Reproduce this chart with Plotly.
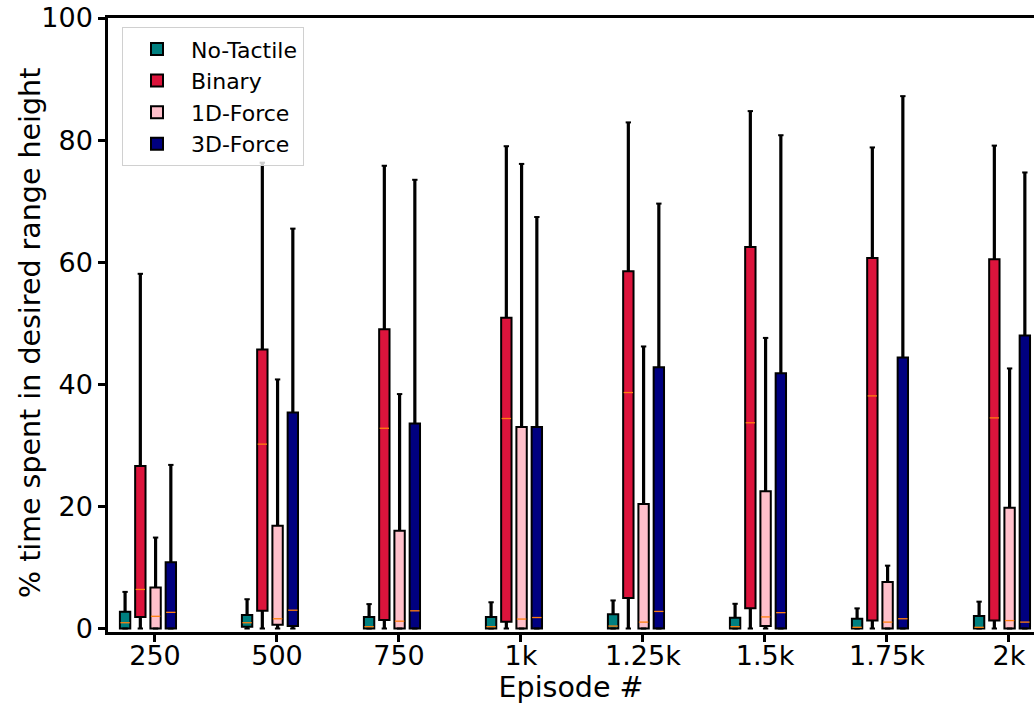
import plotly.graph_objects as go

# ---------------- data ----------------
episodes = ["250", "500", "750", "1k", "1.25k", "1.5k", "1.75k", "2k"]
series_names = ["No-Tactile", "Binary", "1D-Force", "3D-Force"]

notactile_q1 = [0, 0.3, 0, 0, 0, 0, 0, 0]
notactile_med = [0.95, 0.95, 0.3, 0.3, 0.4, 0.3, 0.2, 0.2]
notactile_q3 = [2.75, 2.2, 1.9, 1.9, 2.35, 1.75, 1.6, 2.05]
notactile_hi = [6.0, 4.8, 4.0, 4.3, 4.6, 4.05, 3.3, 4.4]
notactile_lo = [0, 0, 0, 0, 0, 0, 0, 0]

binary_q1 = [1.9, 2.9, 1.4, 1.1, 5.0, 3.3, 1.3, 1.3]
binary_med = [6.4, 30.2, 32.8, 34.4, 38.65, 33.7, 38.1, 34.5]
binary_q3 = [26.6, 45.7, 49.0, 50.9, 58.5, 62.5, 60.7, 60.5]
binary_hi = [58.1, 76.3, 75.8, 79.0, 82.9, 84.75, 78.8, 79.1]
binary_lo = [0, 0, 0, 0, 0, 0, 0, 0]

force1d_q1 = [0, 0.6, 0, 0, 0, 0.4, 0, 0]
force1d_med = [2.0, 1.6, 1.2, 1.55, 1.05, 1.9, 1.05, 1.3]
force1d_q3 = [6.7, 16.85, 16.0, 33.0, 20.4, 22.5, 7.6, 19.8]
force1d_hi = [14.9, 40.8, 38.4, 76.1, 46.2, 47.6, 10.3, 42.6]
force1d_lo = [0, 0, 0, 0, 0, 0, 0, 0]

force3d_q1 = [0, 0.4, 0, 0, 0, 0, 0, 0]
force3d_med = [2.65, 3.0, 2.9, 1.8, 2.8, 2.6, 1.6, 1.05]
force3d_q3 = [10.85, 35.4, 33.6, 33.0, 42.8, 41.8, 44.4, 48.0]
force3d_hi = [26.8, 65.5, 73.5, 67.4, 69.6, 80.8, 87.2, 74.7]
force3d_lo = [0, 0, 0, 0, 0, 0, 0, 0]

y_ticks = [0, 20, 40, 60, 80, 100]
x_title = "Episode #"
y_title = "% time spent in desired range height"

# ---------------- styling ----------------
colors = ["#008080", "#DC143C", "#FFC0CB", "#000080"]
offsets = [-0.245, -0.12, 0.005, 0.13]
box_w = 0.085
cap_half = 0.022
median_color = "#ff7f0e"
FONT = "DejaVu Sans"

stats = [
    (notactile_q1, notactile_med, notactile_q3, notactile_lo, notactile_hi),
    (binary_q1, binary_med, binary_q3, binary_lo, binary_hi),
    (force1d_q1, force1d_med, force1d_q3, force1d_lo, force1d_hi),
    (force3d_q1, force3d_med, force3d_q3, force3d_lo, force3d_hi),
]

positions = list(range(1, len(episodes) + 1))

fig = go.Figure()

# boxes as floating bars (q1 -> q3)
for name, col, off, (q1, med, q3, lo, hi) in zip(series_names, colors, offsets, stats):
    fig.add_trace(go.Bar(
        x=positions,
        y=[b - a for a, b in zip(q1, q3)],
        base=q1,
        offset=off - box_w / 2,
        width=box_w,
        marker=dict(color=col, line=dict(color="black", width=2)),
        name=name,
        legendgroup=name,
        showlegend=True,
    ))

# whiskers, caps and medians
for name, off, (q1, med, q3, lo, hi) in zip(series_names, offsets, stats):
    wx, wy, cx, cy, mx, my = [], [], [], [], [], []
    for p, a, m, b, l, h in zip(positions, q1, med, q3, lo, hi):
        c = p + off
        wx += [c, c, None, c, c, None]
        wy += [b, h, None, a, l, None]
        cx += [c - cap_half, c + cap_half, None, c - cap_half, c + cap_half, None]
        cy += [h, h, None, l, l, None]
        mx += [c - box_w / 2 + 0.004, c + box_w / 2 - 0.004, None]
        my += [m, m, None]
    fig.add_trace(go.Scatter(x=wx, y=wy, mode="lines", line=dict(color="black", width=3.2),
                             showlegend=False, hoverinfo="skip", cliponaxis=False))
    fig.add_trace(go.Scatter(x=cx, y=cy, mode="lines", line=dict(color="black", width=2),
                             showlegend=False, hoverinfo="skip", cliponaxis=False))
    fig.add_trace(go.Scatter(x=mx, y=my, mode="lines", line=dict(color=median_color, width=1.3),
                             showlegend=False, hoverinfo="skip"))

fig.update_layout(
    width=1034, height=707,
    margin=dict(l=108, r=0, t=18, b=75),
    paper_bgcolor="white", plot_bgcolor="white",
    barmode="overlay",
    font=dict(family=FONT, size=27, color="black"),
    showlegend=True,
    legend=dict(
        x=0.0151, y=0.985, xanchor="left", yanchor="top",
        bgcolor="rgba(255,255,255,0.8)", bordercolor="#d0d0d0", borderwidth=1,
        font=dict(family=FONT, size=22, color="black"),
        tracegroupgap=0,
        itemwidth=58,
    ),
    xaxis=dict(
        range=[0.615, 8.205],
        tickmode="array", tickvals=positions, ticktext=episodes,
        showline=True, linecolor="black", linewidth=2.5, mirror=True,
        ticks="outside", ticklen=7, tickwidth=2.5, tickcolor="black",
        ticklabelstandoff=-9,
        showgrid=False, zeroline=False,
        title=dict(text=x_title, font=dict(family=FONT, size=28.5), standoff=0),
        tickfont=dict(family=FONT, size=27),
    ),
    yaxis=dict(
        range=[-0.57, 100],
        tickmode="array", tickvals=y_ticks,
        showline=True, linecolor="black", linewidth=2.5, mirror=False,
        ticks="outside", ticklen=7, tickwidth=2.5, tickcolor="black",
        showgrid=False, zeroline=False,
        tickfont=dict(family=FONT, size=27),
    ),
    annotations=[dict(
        text=y_title, xref="paper", yref="paper",
        x=(30 - 108) / 926, y=(632 - 333) / 614,
        xanchor="center", yanchor="middle", textangle=-90, showarrow=False,
        font=dict(family=FONT, size=28.5, color="black"),
    )],
)

fig.write_html("out.html")
